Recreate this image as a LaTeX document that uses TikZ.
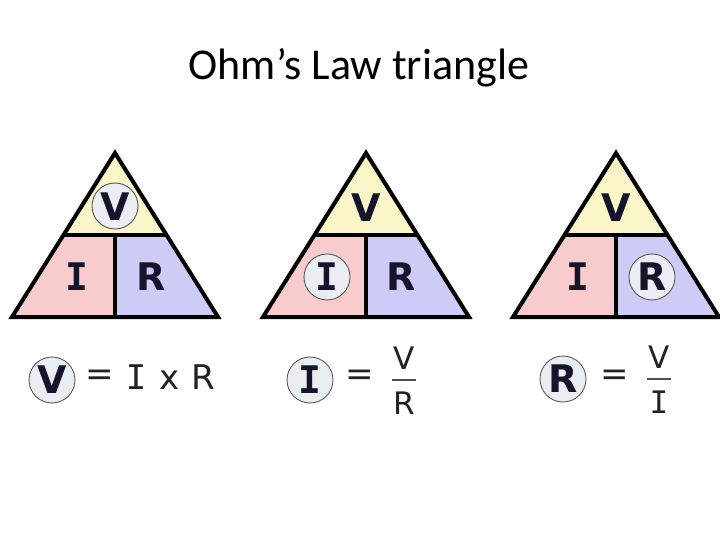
\documentclass[tikz,border=0pt]{standalone}
\usepackage{fontspec}
\setmainfont{Carlito}
\newfontfamily\lett{DejaVu Sans}
\newfontfamily\monof{DejaVu Sans Mono}
\definecolor{tyel}{HTML}{FAF6C8}
\definecolor{tpink}{HTML}{F8CCCC}
\definecolor{tlav}{HTML}{CCCCF6}
\definecolor{cfill}{HTML}{EAEEF2}
\definecolor{ink}{HTML}{14142A}
\definecolor{fink}{HTML}{222222}
\tikzset{
  x=1pt,y=-1pt,
  tri/.style={line width=4pt,line join=miter},
  big/.style={font=\lett\bfseries\fontsize{38}{38}\selectfont,text=ink,inner sep=0pt},
  bigI/.style={font=\monof\bfseries\fontsize{38}{38}\selectfont,text=ink,inner sep=0pt},
  ring/.style={circle,draw=black!65,line width=0.9pt,fill=cfill,minimum size=46pt,inner sep=0pt},
  frm/.style={font=\lett\fontsize{34}{34}\selectfont,text=fink,inner sep=0pt},
  frmI/.style={font=\monof\fontsize{34}{34}\selectfont,text=fink,inner sep=0pt},
  frc/.style={font=\lett\fontsize{31}{31}\selectfont,text=fink,inner sep=0pt},
  frcI/.style={font=\monof\fontsize{31}{31}\selectfont,text=fink,inner sep=0pt},
}
\newcommand{\ohmtri}[1]{%
  \begin{scope}[xshift=#1]
    \fill[tyel] (0,153) -- (-51.5,235) -- (51.5,235) -- cycle;
    \fill[tpink] (-51.5,235) -- (-103,317) -- (0,317) -- (0,235) -- cycle;
    \fill[tlav] (51.5,235) -- (103,317) -- (0,317) -- (0,235) -- cycle;
    \draw[tri] (0,153) -- (-103,317) -- (103,317) -- cycle;
    \draw[tri] (-51.5,235) -- (51.5,235);
    \draw[tri] (0,235) -- (0,317);
  \end{scope}}
\begin{document}
\begin{tikzpicture}
\useasboundingbox (0,0) rectangle (720,540);
\node[font=\fontsize{44}{44}\selectfont,anchor=base,inner sep=0pt] (title) at (359,80) {Ohm’s Law triangle};

% triangle 1
\ohmtri{115}
\node[ring] (c1) at (115,206) {};
\node[big] (v1) at (115,207) {V};
\node[bigI] (i1) at (77,277) {I};
\node[big] (r1) at (151,277) {R};

% triangle 2
\ohmtri{366}
\node[big] (v2) at (366,208) {V};
\node[ring] (c2) at (327,277) {};
\node[bigI] (i2) at (327,277) {I};
\node[big] (r2) at (401,277) {R};

% triangle 3
\ohmtri{616}
\node[big] (v3) at (616,208) {V};
\node[bigI] (i3) at (578,277) {I};
\node[ring] (c3) at (652,277) {};
\node[big] (r3) at (652,277) {R};

% formula 1
\node[ring] (fc1) at (52,380) {};
\node[big] (fv1) at (52,380) {V};
\node[frm] (eq1) at (100,378) {=};
\node[frmI] (fi1) at (136,377) {I};
\node[frm] (fx1) at (170,380) {x};
\node[frm] (fr1) at (203,377) {R};

% formula 2
\node[ring] (fc2) at (310,380) {};
\node[bigI] (fi2) at (310,380) {I};
\node[frm] (eq2) at (360,378) {=};
\node[frc] (fv2) at (404,358) {V};
\draw[line width=1.6pt,fink!80] (392,380) -- (416,380);
\node[frc] (fr2) at (404,403) {R};

% formula 3
\node[ring] (fc3) at (563,379) {};
\node[big] (fr3) at (563,379) {R};
\node[frm] (eq3) at (615,378) {=};
\node[frc] (fv3) at (659,357) {V};
\draw[line width=1.6pt,fink!80] (647,379) -- (671,379);
\node[frcI] (fi3) at (659,402) {I};
\end{tikzpicture}
\end{document}
